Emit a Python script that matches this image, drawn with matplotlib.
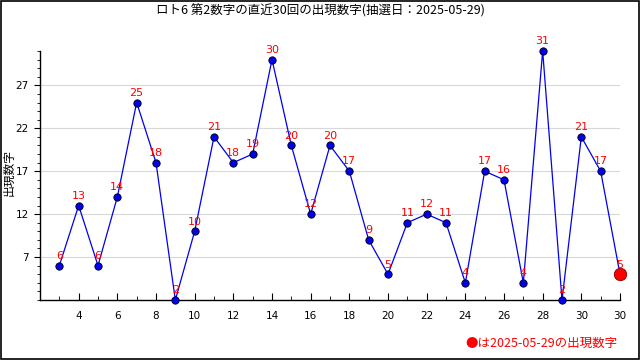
import matplotlib
matplotlib.use("Agg")
import matplotlib.pyplot as plt
from matplotlib.patches import Rectangle

plt.rcParams['font.family'] = ['Noto Sans CJK JP', 'DejaVu Sans']

title = "ロト6 第2数字の直近30回の出現数字(抽選日：2025-05-29)"
draw_date = "2025-05-29"
x_pos = list(range(3, 33))
values = [6, 13, 6, 14, 25, 18, 2, 10, 21, 18, 19, 30, 20, 12, 20,
          17, 9, 5, 11, 12, 11, 4, 17, 16, 4, 31, 2, 21, 17, 5]
x_ticks = list(range(4, 33, 2))
x_labels = [str(t) for t in range(4, 31, 2)] + ["30"]
y_ticks = [7, 12, 17, 22, 27]

fig = plt.figure(figsize=(6.4, 3.6), dpi=100)
ax = fig.add_axes([40 / 640, 60 / 360, 580 / 640, 249 / 360])

for y in y_ticks:
    ax.axhline(y, color="#d8d8d8", lw=0.8, zorder=0)

ax.plot(x_pos, values, color="#0000ee", lw=0.9, zorder=2)
ax.scatter(x_pos[:-1], values[:-1], s=28, color="#0000ee",
           edgecolors="black", linewidths=0.6, zorder=3, clip_on=False)
ax.scatter(x_pos[-1:], values[-1:], s=80, color="red",
           edgecolors="#800000", linewidths=0.6, zorder=4, clip_on=False)

for x, v in zip(x_pos, values):
    ax.text(x, v + 0.55, str(v), color="red", fontsize=8,
            ha="center", va="bottom", zorder=5, family="DejaVu Sans")

ax.set_xlim(2, 32)
ax.set_ylim(2, 31)
ax.set_xticks(x_ticks)
ax.set_xticklabels(x_labels, fontsize=7.5, family="DejaVu Sans")
ax.set_xticks(range(3, 33, 2), minor=True)
ax.set_yticks(y_ticks)
ax.set_yticklabels([str(t) for t in y_ticks], fontsize=7.5, family="DejaVu Sans")
ax.set_yticks(range(2, 32), minor=True)
ax.tick_params(axis="x", which="major", direction="in", length=5, pad=8)
ax.tick_params(axis="x", which="minor", direction="in", length=3)
ax.tick_params(axis="y", which="major", direction="out", length=4, pad=4)
ax.tick_params(axis="y", which="minor", direction="out", length=2)

for side in ["top", "right"]:
    ax.spines[side].set_visible(False)
ax.spines["left"].set_linewidth(1)
ax.spines["bottom"].set_linewidth(1)

fig.text(9 / 640, 1 - 172 / 360, "出現数字", rotation=90,
         ha="center", va="center", fontsize=8.5)
fig.text(0.5, 1 - 11 / 360, title, ha="center", va="center", fontsize=9)
fig.text(618 / 640, 1 - 343 / 360, "●は" + draw_date + "の出現数字",
         ha="right", va="center", fontsize=9, color="red")

fig.patches.append(Rectangle((0.001, 0.002), 0.997, 0.995, transform=fig.transFigure,
                             fill=False, edgecolor="black", lw=1.2))

fig.savefig("out.png", dpi=100)
